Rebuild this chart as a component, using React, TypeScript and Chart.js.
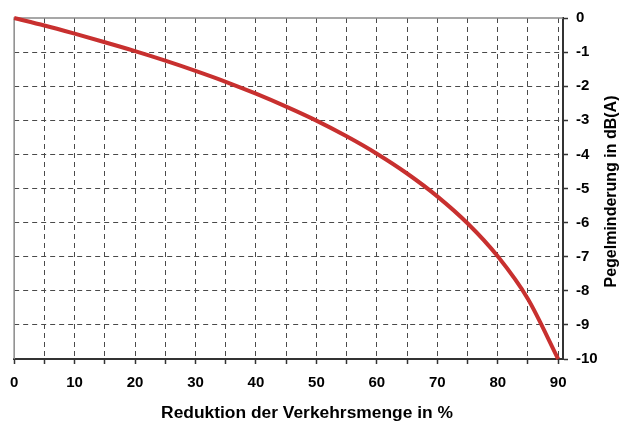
import React, { useEffect, useRef } from "react";
import { Chart, registerables } from "chart.js";

Chart.register(...registerables);

const REDUCTION = [0, 5, 10, 15, 20, 25, 30, 35, 40, 45, 50, 55, 60, 65, 70, 75, 80, 85, 90];
const LEVEL_DROP = [0, -0.22, -0.46, -0.71, -0.97, -1.25, -1.55, -1.87, -2.22, -2.6, -3.01, -3.47, -3.98, -4.56, -5.23, -6.02, -6.99, -8.24, -10];
const X_TICKS = [0, 5, 10, 15, 20, 25, 30, 35, 40, 45, 50, 55, 60, 65, 70, 75, 80, 85, 90];
const X_TITLE = "Reduktion der Verkehrsmenge in %";
const Y_TITLE = "Pegelminderung in dB(A)";

const FONT = "'Liberation Sans', Arial, sans-serif";
const GRID = "#4a4a4a";
const AXIS = "#333333";
const FRAME = "#8a8a8a";

export default function App() {
  const ref = useRef<HTMLCanvasElement | null>(null);

  useEffect(() => {
    const canvas = ref.current;
    if (!canvas) return;

    const framePlugin = {
      id: "frameAndTitles",
      beforeDatasetsDraw(chart: any) {
        const { ctx, chartArea } = chart;
        ctx.save();
        ctx.strokeStyle = FRAME;
        ctx.lineWidth = 1.5;
        ctx.beginPath();
        ctx.moveTo(chartArea.left, chartArea.bottom);
        ctx.lineTo(chartArea.left, chartArea.top);
        ctx.lineTo(chartArea.right, chartArea.top);
        ctx.stroke();
        ctx.restore();
      },
      afterDraw(chart: any) {
        const { ctx, chartArea } = chart;
        ctx.save();
        ctx.fillStyle = "#000";
        ctx.font = `bold 17.4px ${FONT}`;
        ctx.textAlign = "center";
        ctx.textBaseline = "middle";
        ctx.fillText(X_TITLE, 307, 413);
        ctx.translate(612, (chartArea.top + chartArea.bottom) / 2 + 3);
        ctx.rotate(-Math.PI / 2);
        ctx.font = `bold 16px ${FONT}`;
        ctx.fillText(Y_TITLE, 0, 0);
        ctx.restore();
      },
    };

    const chart = new Chart(canvas, {
      type: "line",
      data: {
        datasets: [
          {
            data: REDUCTION.map((x, i) => ({ x, y: LEVEL_DROP[i] })),
            borderColor: "#c8302f",
            borderWidth: 4,
            pointRadius: 0,
            fill: false,
            cubicInterpolationMode: "monotone",
            clip: 6,
          },
        ],
      },
      options: {
        responsive: false,
        animation: false,
        layout: { padding: { left: 13, top: 18, right: 0, bottom: 0 } },
        plugins: { legend: { display: false }, tooltip: { enabled: false } },
        scales: {
          x: {
            type: "linear",
            min: 0,
            max: 90.8,
            afterBuildTicks: (scale: any) => {
              scale.ticks = X_TICKS.map((v) => ({ value: v }));
            },
            afterFit: (scale: any) => {
              scale.height = 62;
            },
            grid: {
              color: (c: any) => (c.tick && c.tick.value === 0 ? "rgba(0,0,0,0)" : GRID),
              lineWidth: 1,
              tickLength: 5,
              tickColor: AXIS,
              tickWidth: 1.5,
            },
            border: { display: true, color: AXIS, width: 2, dash: [5, 4] },
            ticks: {
              autoSkip: false,
              maxRotation: 0,
              padding: 10,
              color: "#000",
              font: { family: FONT, size: 15, weight: "bold" },
              callback: (v: any) => (Number(v) % 10 === 0 ? String(v) : ""),
            },
          },
          y: {
            type: "linear",
            position: "right",
            min: -10,
            max: 0,
            afterFit: (scale: any) => {
              scale.width = 61;
            },
            grid: {
              color: (c: any) =>
                c.tick && (c.tick.value === 0 || c.tick.value === -10) ? "rgba(0,0,0,0)" : GRID,
              lineWidth: 1,
              tickLength: 5,
              tickColor: AXIS,
              tickWidth: 1.5,
            },
            border: { display: true, color: AXIS, width: 2, dash: [5, 4] },
            ticks: {
              stepSize: 1,
              padding: 8,
              color: "#000",
              font: { family: FONT, size: 15, weight: "bold" },
              callback: (v: any) => String(v),
            },
          },
        },
      },
      plugins: [framePlugin],
    } as any);

    return () => chart.destroy();
  }, []);

  return (
    <div style={{ position: "absolute", left: 0, top: 0, width: 624, height: 421, background: "#fff" }}>
      <canvas ref={ref} width={624} height={421} style={{ width: 624, height: 421 }} />
    </div>
  );
}
